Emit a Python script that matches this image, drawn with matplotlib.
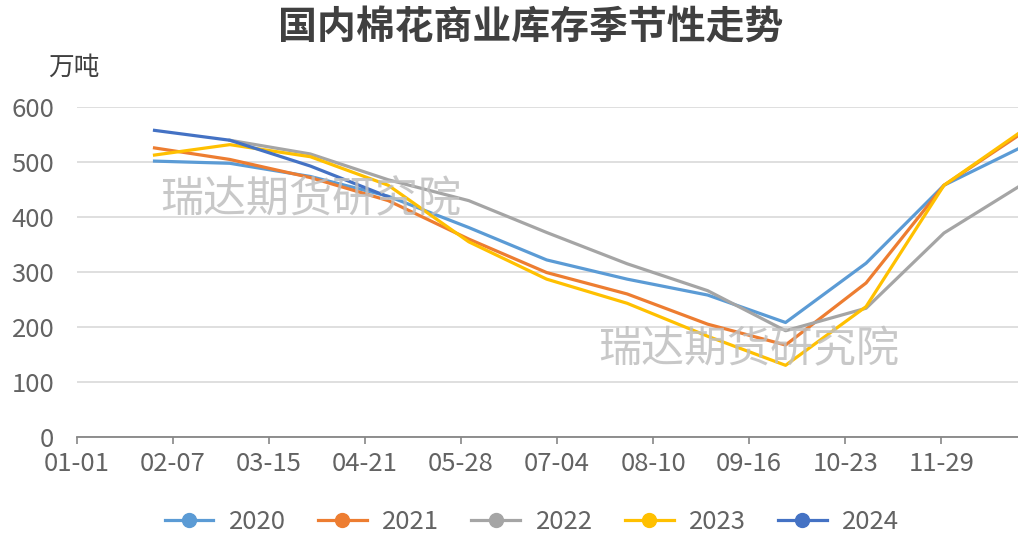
import numpy as np
import pandas as pd
import matplotlib
matplotlib.use("Agg")
import matplotlib.pyplot as plt
from matplotlib.lines import Line2D

plt.rcParams["font.family"] = ["Noto Sans CJK SC", "DejaVu Sans"]

# month-end observations (万吨)
month_ends = ["01-31", "02-29", "03-31", "04-30", "05-31", "06-30",
              "07-31", "08-31", "09-30", "10-31", "11-30", "12-31"]
stock_2020 = [502, 498, 474, 438, 381, 322, 287, 258, 208, 316, 458, 530]
stock_2021 = [526, 505, 472, 430, 360, 299, 260, 205, 167, 280, 458, 556]
stock_2022 = [np.nan, 540, 515, 468, 430, 372, 315, 266, 193, 234, 371, 462]
stock_2023 = [513, 532, 510, 458, 355, 287, 243, 183, 130, 237, 458, 560]
stock_2024 = [558, 540, 493, 437] + [np.nan] * 8

years = ["2020", "2021", "2022", "2023", "2024"]
colors = ["#5B9BD5", "#ED7D31", "#A5A5A5", "#FFC000", "#4472C4"]
tick_labels = ["01-01", "02-07", "03-15", "04-21", "05-28",
               "07-04", "08-10", "09-16", "10-23", "11-29"]
y_ticks = [0, 100, 200, 300, 400, 500, 600]


def day_of_year(md):
    return (pd.Timestamp("2020-" + md) - pd.Timestamp("2020-01-01")).days


x = np.array([day_of_year(m) for m in month_ends])
tick_pos = [day_of_year(t) for t in tick_labels]
series = [stock_2020, stock_2021, stock_2022, stock_2023, stock_2024]

W, H = 1018, 534
fig = plt.figure(figsize=(W / 100, H / 100), dpi=100)
left, right, bottom, top = 76.6, 1018, 436.7, 107.3
ax = fig.add_axes([left / W, 1 - bottom / H, (right - left) / W, (bottom - top) / H])

for vals, c in zip(series, colors):
    ax.plot(x, vals, color=c, lw=2.3, solid_joinstyle="round", zorder=3)

ax.set_xlim(0, 362.5)
ax.set_ylim(0, 600)
ax.set_yticks(y_ticks)
ax.set_xticks(tick_pos)
ax.set_xticklabels(tick_labels)
ax.grid(axis="y", color="#D9D9D9", lw=1.2)
ax.set_axisbelow(True)
for s in ["top", "right", "left"]:
    ax.spines[s].set_visible(False)
ax.spines["bottom"].set_color("#868686")
ax.spines["bottom"].set_linewidth(1.3)
ax.tick_params(axis="x", colors="#868686", length=5, width=1.2, pad=5,
               labelsize=18.5, labelcolor="#636363")
ax.tick_params(axis="y", length=0, pad=16, labelsize=18.5, labelcolor="#636363")

# watermark
for wx, wy in [(160, 200), (598, 350)]:
    fig.text(wx / W, 1 - wy / H, "瑞达期货研究院", fontsize=31, color="#BFBFBF",
             alpha=0.85, ha="left", va="center", zorder=5)

fig.text(531 / W, 1 - 28 / H, "国内棉花商业库存季节性走势", fontsize=28,
         fontweight="bold", color="#404040", ha="center", va="center")
fig.text(74 / W, 1 - 68 / H, "万吨", fontsize=18.5, color="#404040",
         ha="center", va="center")

handles = [Line2D([], [], color=c, lw=2.3, marker="o", markersize=10)
           for c in colors]
fig.legend(handles, years, loc="center", bbox_to_anchor=(532 / W, 1 - 522 / H),
           ncol=5, frameon=False, fontsize=18.5, handlelength=1.9,
           handletextpad=0.6, columnspacing=1.25, labelcolor="#636363")

fig.savefig("out.png", dpi=100)
